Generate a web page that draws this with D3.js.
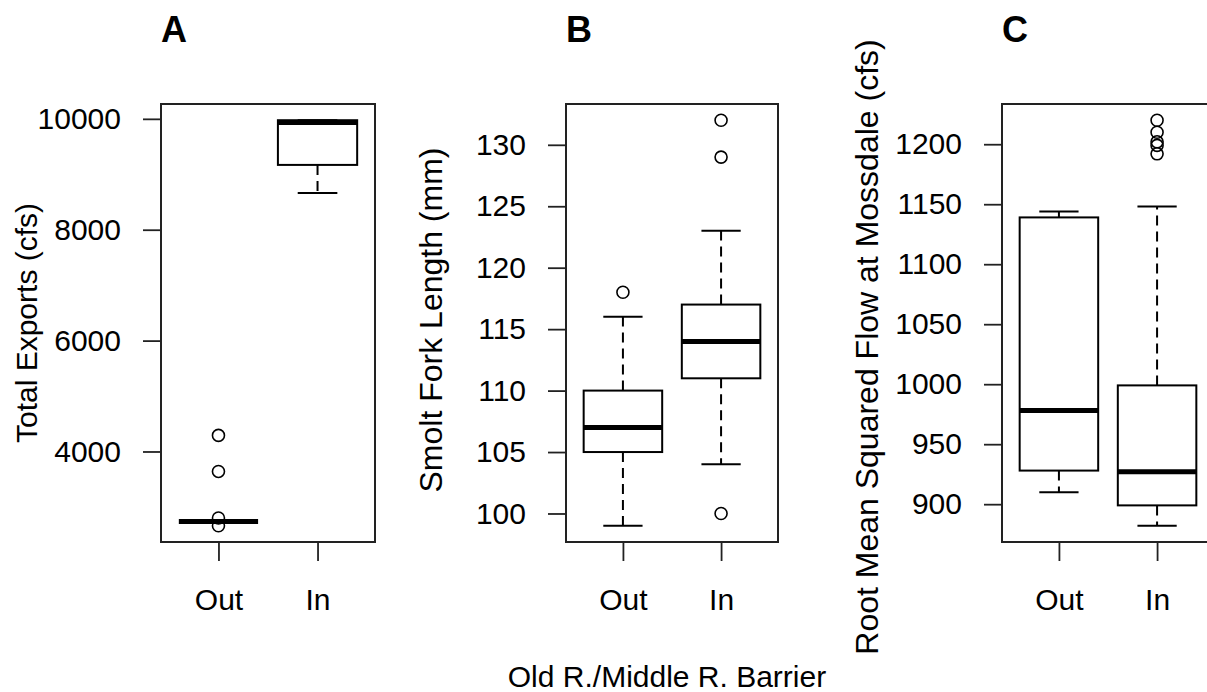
<!DOCTYPE html>
<html>
<head>
<meta charset="utf-8">
<script src="https://cdn.jsdelivr.net/npm/d3@7"></script>
<style>
  body { margin: 0; background: #fff; }
  text { font-family: "Liberation Sans", Arial, sans-serif; fill: #000; }
</style>
</head>
<body>
<div id="chart"></div>
<script>
// categories and per-panel box statistics (panels A, B, C)
const categories = ["Out", "In"];
const panelLetters = ["A", "B", "C"];
const yTitles = [
  "Total Exports (cfs)",
  "Smolt Fork Length (mm)",
  "Root Mean Squared Flow at Mossdale (cfs)",
];
const xTitle = "Old R./Middle R. Barrier";

const lowerWhisker = [[2735, 8663], [99, 104], [910, 882]];
const lowerHinge = [[2735, 9169], [105, 111], [928, 899]];
const medians = [[2735, 9935], [107, 114], [978, 927]];
const upperHinge = [[2735, 9975], [110, 117], [1139, 999]];
const upperWhisker = [[2735, 9975], [116, 123], [1144, 1148]];
const outliers = [
  [[4290, 3640, 2800, 2660], []],
  [[118], [132, 129, 100]],
  [[], [1220, 1210, 1202, 1199, 1192]],
];
const yTicks = [
  [4000, 6000, 8000, 10000],
  [100, 105, 110, 115, 120, 125, 130],
  [900, 950, 1000, 1050, 1100, 1150, 1200],
];

const width = 1207;
const height = 692;
const plotTop = 104;
const plotBottom = 542;
const panels = [
  { left: 161, right: 375, titleSize: 30, titleY: 323 },
  { left: 566, right: 778, titleSize: 32, titleY: 320 },
  { left: 1002, right: 1214, titleSize: 32, titleY: 347 },
];

const svg = d3
  .select("#chart")
  .append("svg")
  .attr("width", width)
  .attr("height", height)
  .style("background", "#fff");

panels.forEach((p, i) => {
  const x = d3
    .scalePoint()
    .domain(categories)
    .range([p.left, p.right])
    .padding(0.58);
  const step = x.step();
  const boxW = step * 0.8;
  const capW = step * 0.4;

  // R style: data range extended by 4%
  const all = [...lowerWhisker[i], ...upperWhisker[i], ...outliers[i].flat()];
  const [lo, hi] = d3.extent(all);
  const pad = (hi - lo) * 0.04;
  const y = d3
    .scaleLinear()
    .domain([lo - pad, hi + pad])
    .range([plotBottom, plotTop]);

  const g = svg.append("g");

  // y axis
  const yAxis = g
    .append("g")
    .attr("transform", "translate(" + p.left + ",0)")
    .call(
      d3
        .axisLeft(y)
        .tickValues(yTicks[i])
        .tickSize(18)
        .tickPadding(22)
        .tickFormat(d3.format("d"))
    );
  yAxis.select(".domain").remove();
  yAxis.selectAll("line").attr("stroke", "#222").attr("stroke-width", 1.8);
  yAxis.selectAll("text").style("font-size", "30px").attr("fill", "#000");

  // x axis
  const xAxis = g
    .append("g")
    .attr("transform", "translate(0," + plotBottom + ")")
    .call(d3.axisBottom(x).tickSize(19).tickPadding(28));
  xAxis.select(".domain").remove();
  xAxis.selectAll("line").attr("stroke", "#222").attr("stroke-width", 1.8);
  xAxis.selectAll("text").style("font-size", "30px").attr("fill", "#000");

  const boxes = categories.map((c, j) => ({
    cat: c,
    lw: lowerWhisker[i][j],
    q1: lowerHinge[i][j],
    med: medians[i][j],
    q3: upperHinge[i][j],
    uw: upperWhisker[i][j],
    out: outliers[i][j],
  }));

  const b = g.selectAll("g.box").data(boxes).join("g").attr("class", "box");

  // dashed whiskers
  b.selectAll("line.whisker")
    .data((d) => [
      [d.q1, d.lw, d.cat],
      [d.q3, d.uw, d.cat],
    ])
    .join("line")
    .attr("class", "whisker")
    .attr("x1", (d) => x(d[2]))
    .attr("x2", (d) => x(d[2]))
    .attr("y1", (d) => y(d[0]))
    .attr("y2", (d) => y(d[1]))
    .attr("stroke", "#000")
    .attr("stroke-width", 2)
    .attr("stroke-dasharray", "10,6");

  // whisker caps
  b.selectAll("line.cap")
    .data((d) => [
      [d.lw, d.cat],
      [d.uw, d.cat],
    ])
    .join("line")
    .attr("class", "cap")
    .attr("x1", (d) => x(d[1]) - capW / 2)
    .attr("x2", (d) => x(d[1]) + capW / 2)
    .attr("y1", (d) => y(d[0]))
    .attr("y2", (d) => y(d[0]))
    .attr("stroke", "#000")
    .attr("stroke-width", 2);

  // box
  b.append("rect")
    .attr("x", (d) => x(d.cat) - boxW / 2)
    .attr("y", (d) => y(d.q3))
    .attr("width", boxW)
    .attr("height", (d) => y(d.q1) - y(d.q3))
    .attr("fill", "none")
    .attr("stroke", "#000")
    .attr("stroke-width", 2);

  // median
  b.append("line")
    .attr("x1", (d) => x(d.cat) - boxW / 2)
    .attr("x2", (d) => x(d.cat) + boxW / 2)
    .attr("y1", (d) => y(d.med))
    .attr("y2", (d) => y(d.med))
    .attr("stroke", "#000")
    .attr("stroke-width", 5);

  // outliers
  b.selectAll("circle")
    .data((d) => d.out.map((v) => [v, d.cat]))
    .join("circle")
    .attr("cx", (d) => x(d[1]))
    .attr("cy", (d) => y(d[0]))
    .attr("r", 6)
    .attr("fill", "none")
    .attr("stroke", "#000")
    .attr("stroke-width", 1.6);

  // plot frame
  g.append("rect")
    .attr("x", p.left)
    .attr("y", plotTop)
    .attr("width", p.right - p.left)
    .attr("height", plotBottom - plotTop)
    .attr("fill", "none")
    .attr("stroke", "#222")
    .attr("stroke-width", 2);

  // panel letter
  g.append("text")
    .attr("x", p.left)
    .attr("y", 42)
    .style("font-size", "36px")
    .style("font-weight", "bold")
    .text(panelLetters[i]);

  // y title
  g.append("text")
    .attr(
      "transform",
      "translate(" + (p.left - 124) + "," + p.titleY + ") rotate(-90)"
    )
    .attr("text-anchor", "middle")
    .style("font-size", p.titleSize + "px")
    .text(yTitles[i]);
});

svg
  .append("text")
  .attr("x", 667)
  .attr("y", 687)
  .attr("text-anchor", "middle")
  .style("font-size", "30px")
  .text(xTitle);
</script>
</body>
</html>
